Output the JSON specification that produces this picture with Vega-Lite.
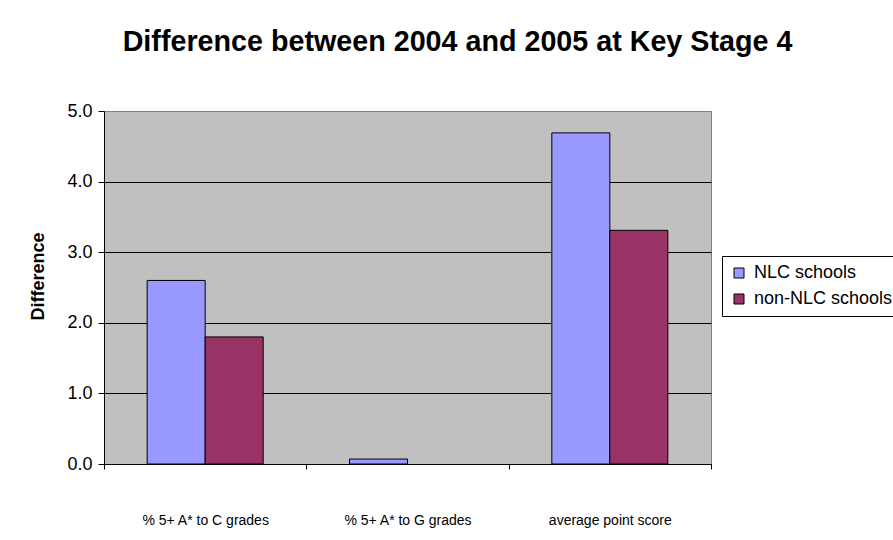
{
  "$schema": "https://vega.github.io/schema/vega-lite/v6.json",
  "autosize": "none",
  "width": 607,
  "height": 353,
  "padding": {"left": 104, "top": 111, "right": 182, "bottom": 76},
  "background": "white",
  "title": {
    "text": "Difference between 2004 and 2005 at Key Stage 4",
    "font": "Liberation Sans",
    "fontSize": 28.7,
    "fontWeight": "bold",
    "color": "black",
    "anchor": "middle",
    "dx": 50,
    "baseline": "alphabetic",
    "offset": 22
  },
  "data": {
    "values": [
      {"measure": "% 5+ A* to C grades", "group": "NLC schools", "diff": 2.6},
      {"measure": "% 5+ A* to C grades", "group": "non-NLC schools", "diff": 1.8},
      {"measure": "% 5+ A* to G grades", "group": "NLC schools", "diff": 0.07},
      {"measure": "% 5+ A* to G grades", "group": "non-NLC schools", "diff": null},
      {"measure": "average point score", "group": "NLC schools", "diff": 4.69},
      {"measure": "average point score", "group": "non-NLC schools", "diff": 3.31}
    ]
  },
  "mark": {"type": "bar", "stroke": "black", "strokeWidth": 1},
  "encoding": {
    "x": {
      "field": "measure",
      "type": "nominal",
      "sort": null,
      "scale": {"paddingInner": 0, "paddingOuter": 0},
      "axis": {
        "title": null,
        "labelAngle": 0,
        "labelFont": "Liberation Sans",
        "labelFontSize": 14,
        "labelColor": "black",
        "labelPadding": 44,
        "tickBand": "extent",
        "tickColor": "black",
        "tickSize": 5,
        "domainColor": "black",
        "grid": false
      }
    },
    "xOffset": {
      "field": "group",
      "type": "nominal",
      "scale": {"domain": ["NLC schools", "non-NLC schools"], "paddingInner": 0, "paddingOuter": 0.744}
    },
    "y": {
      "field": "diff",
      "type": "quantitative",
      "scale": {"domain": [0, 5], "nice": false},
      "axis": {
        "title": "Difference",
        "titleFont": "Liberation Sans",
        "titleFontSize": 18,
        "titleFontWeight": "bold",
        "titleColor": "black",
        "titlePadding": 19,
        "titleY": 165,
        "values": [0, 1, 2, 3, 4, 5],
        "format": ".1f",
        "labelFont": "Liberation Sans",
        "labelFontSize": 18,
        "labelColor": "black",
        "labelPadding": 6,
        "tickColor": "black",
        "tickSize": 6,
        "domainColor": "black",
        "grid": true,
        "gridColor": {"condition": {"test": "datum.value === 5", "value": "#808080"}, "value": "black"},
        "gridOpacity": 1
      }
    },
    "fill": {
      "field": "group",
      "type": "nominal",
      "scale": {"domain": ["NLC schools", "non-NLC schools"], "range": ["#9999FF", "#993366"]},
      "legend": {
        "title": null,
        "orient": "none",
        "legendX": 618,
        "legendY": 145,
        "strokeColor": "black",
        "fillColor": "white",
        "padding": 8,
        "symbolType": "square",
        "symbolSize": 100,
        "symbolStrokeColor": "black",
        "symbolStrokeWidth": 1,
        "labelFont": "Liberation Sans",
        "labelFontSize": 18,
        "labelColor": "black",
        "labelOffset": 6,
        "rowPadding": 8,
        "symbolOpacity": 1
      }
    }
  },
  "config": {
    "view": {"fill": "#C0C0C0", "stroke": "#808080", "strokeWidth": 1}
  }
}
